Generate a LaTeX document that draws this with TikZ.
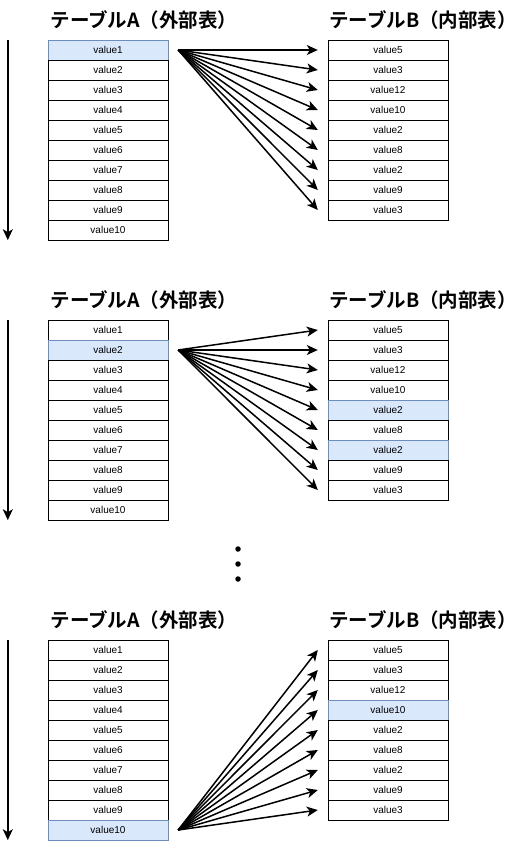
\documentclass[tikz,border=0pt]{standalone}
\usepackage{fontspec}
\setmainfont{Liberation Sans}
\newfontfamily\jpfont[BoldFont={Noto Sans CJK JP Bold}]{Noto Sans CJK JP}
\usetikzlibrary{arrows.meta,positioning}
\definecolor{hlfill}{HTML}{DAE8FC}
\definecolor{hldraw}{HTML}{6C8EBF}

% highlighted cells
\tikzset{
  hl/a1-1/.style={hit},
  hl/a2-2/.style={hit}, hl/b2-5/.style={hit}, hl/b2-7/.style={hit},
  hl/a3-10/.style={hit}, hl/b3-4/.style={hit}
}

\begin{document}
\begin{tikzpicture}[x=1pt, y=-1pt,
  cell/.style={rectangle, draw, fill=white, minimum width=120pt,
    minimum height=20pt, inner sep=0pt, font=\fontsize{10}{12}\selectfont},
  hit/.style={fill=hlfill, draw=hldraw},
  title/.style={font=\jpfont\bfseries\fontsize{19.5}{22}\selectfont},
  arr/.style={-{Stealth[length=11pt, width=10pt, inset=3pt]}, line width=1.5pt},
  time/.style={-{Stealth[length=11pt, width=10pt, inset=3pt]}, line width=1.5pt},
  dot/.style={circle, fill=black, inner sep=0pt, minimum size=5.5pt}
]
\useasboundingbox (0,0) rectangle (529,850);

\foreach \blk/\yo/\src in {1/0/1, 2/280/2, 3/600/10} {
  \node[title] (ta\blk) at (144, 20+\yo) {テーブルA（外部表）};
  \node[title] (tb\blk) at (423, 20+\yo) {テーブルB（内部表）};
  \foreach \v [count=\i] in {1,...,10}
    \node[cell, hl/a\blk-\i/.try] (a\blk-\i) at (108, 30+20*\i+\yo) {value\v};
  \foreach \v [count=\i] in {5,3,12,10,2,8,2,9,3}
    \node[cell, hl/b\blk-\i/.try] (b\blk-\i) at (388, 30+20*\i+\yo) {value\v};
  \foreach \j in {1,...,9}
    \draw[arr] ([xshift=10pt]a\blk-\src.east) -- ([xshift=-10pt]b\blk-\j.west);
  \draw[time] ([xshift=-40pt]a\blk-1.north west) -- ([xshift=-40pt]a\blk-10.south west);
}

\foreach \d in {1,2,3}
  \node[dot] (dot\d) at (238, 534+15*\d) {};

\end{tikzpicture}
\end{document}
